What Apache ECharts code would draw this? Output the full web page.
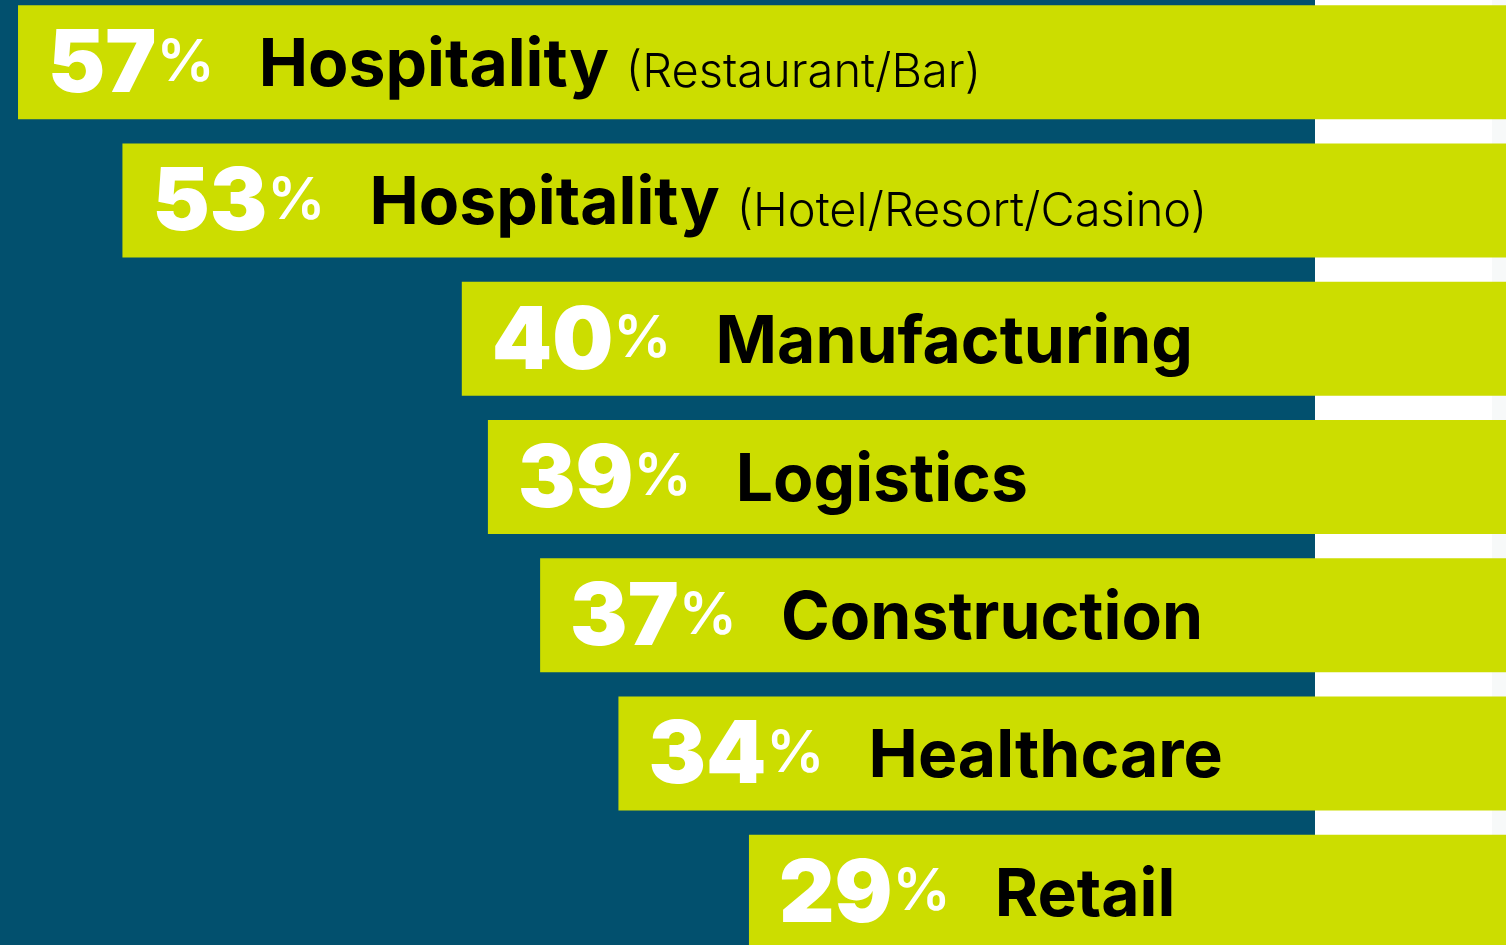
<!DOCTYPE html>
<html>
<head>
<meta charset="utf-8">
<title>Industry share</title>
<script src="https://cdn.jsdelivr.net/npm/echarts@6/dist/echarts.min.js"></script>
<style>
  html, body { margin: 0; padding: 0; background: #ffffff; }
  #chart { width: 1506px; height: 945px; }
</style>
</head>
<body>
<div id="chart"></div>
<script>
// values
const shares = [57, 53, 40, 39, 37, 34, 29];
const sectors = ['Hospitality', 'Hospitality', 'Manufacturing', 'Logistics', 'Construction', 'Healthcare', 'Retail'];
const details = ['(Restaurant/Bar)', '(Hotel/Resort/Casino)', '', '', '', '', ''];

const categories = sectors.map((s, i) => (details[i] ? s + ' ' + details[i] : s));

const teal = '#02506e';
const lime = '#ccdd00';
const font = 'Inter, "Noto Sans", sans-serif';

const chart = echarts.init(document.getElementById('chart'), null, { renderer: 'canvas' });

chart.setOption({
  backgroundColor: '#ffffff',
  animation: false,
  graphic: [
    { type: 'rect', z: 0, shape: { x: 0, y: 0, width: 1315, height: 945 }, style: { fill: teal } },
    { type: 'rect', z: 0, shape: { x: 1492, y: 0, width: 14, height: 945 }, style: { fill: '#f7f9f9' } }
  ],
  // bands are 138px tall, so the last bar runs past the bottom edge
  grid: { left: 0, right: 0, top: -7, height: 968, containLabel: false, outerBoundsMode: 'none' },
  xAxis: {
    type: 'value',
    inverse: true,
    min: 0,
    max: 57.69,
    show: false
  },
  yAxis: {
    type: 'category',
    inverse: true,
    data: categories,
    show: false
  },
  series: [
    {
      type: 'bar',
      z: 2,
      barWidth: 114,
      data: shares,
      itemStyle: { color: lime },
      label: {
        show: true,
        position: 'insideLeft',
        distance: 30,
        offset: [0, 4],
        formatter: (p) => {
          const i = p.dataIndex;
          let s = `{num|${shares[i]}}{pct|%}{sp|}{cat|${sectors[i]}}`;
          if (details[i]) s += `{det|${details[i]}}`;
          return s;
        },
        rich: {
          num: { fontFamily: font, fontSize: 86, fontWeight: 900, color: '#ffffff' },
          pct: { fontFamily: font, fontSize: 58, fontWeight: 600, color: '#ffffff', padding: [0, 0, 6, 0] },
          sp: { width: 44 },
          cat: { fontFamily: font, fontSize: 66, fontWeight: 700, color: '#000000' },
          // pushed down so its baseline sits on the bold name's baseline
          det: { fontFamily: font, fontSize: 47, fontWeight: 300, color: '#000000', padding: [14, 0, 0, 17] }
        }
      }
    }
  ]
});
</script>
</body>
</html>
